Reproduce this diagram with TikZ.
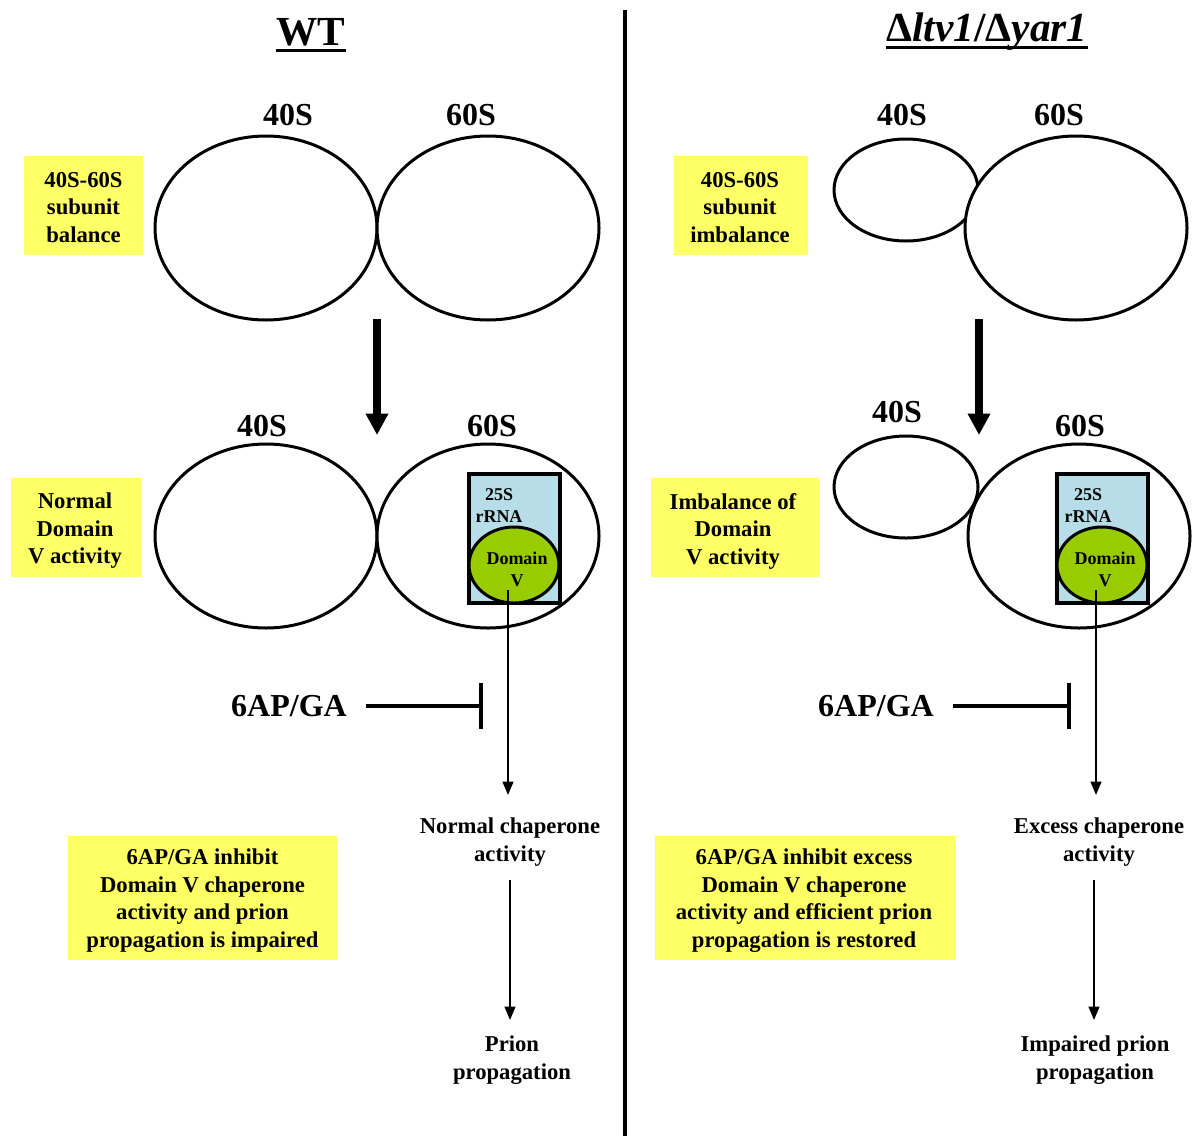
\documentclass[tikz,border=0pt]{standalone}
\usepackage{fontspec}
\setmainfont{Liberation Serif}
\usetikzlibrary{shapes.geometric,arrows.meta}
\definecolor{notey}{HTML}{FFFF66}
\definecolor{rnablue}{HTML}{B7DEE8}
\definecolor{domgreen}{HTML}{99CC00}
\newlength\unitpx
\setlength\unitpx{0.75pt}
\begin{document}
\begin{tikzpicture}[x=0.75pt,y=-0.75pt,
  headline/.style={font=\bfseries\fontsize{31}{36}\selectfont, inner sep=0pt},
  lbl/.style={font=\bfseries\fontsize{24}{28}\selectfont, inner sep=0pt},
  notebox/.style={fill=notey, inner sep=0pt},
  plaintext/.style={align=center, inner sep=0pt,
    font=\bfseries\fontsize{17}{20.6}\selectfont},
  sub/.style={draw, ellipse, fill=white, line width=2.25pt, inner sep=0pt},
  bigsub/.style={sub, minimum width=222\unitpx, minimum height=184\unitpx},
  smallsub/.style={sub, minimum width=144\unitpx, minimum height=102\unitpx},
  rnabox/.style={draw, fill=rnablue, line width=3pt, inner sep=0pt,
    minimum width=91\unitpx, minimum height=129\unitpx},
  domv/.style={draw, ellipse, fill=domgreen, line width=2.25pt, inner sep=0pt,
    minimum width=90\unitpx, minimum height=76\unitpx},
  tinytext/.style={align=center, inner sep=0pt,
    font=\bfseries\fontsize{13.5}{16.5}\selectfont},
  fatarrow/.style={line width=6pt, -{Triangle[width=16pt,length=16pt]}},
  thinarrow/.style={line width=1.5pt, -{Triangle[width=8pt,length=10pt]}},
  blockline/.style={line width=3pt, -{Bar[width=35pt]}},
  galabel/.style={lbl, inner xsep=14pt}
]
\useasboundingbox (0,0) rectangle (1194,1136);

% divider
\coordinate (divtop) at (625,10);
\coordinate (divbot) at (625,1136);
\draw[line width=3pt] (divtop) -- (divbot);

% titles, underlined
\node[headline] (wt) at (311,32) {WT};
\draw[line width=2.5pt] ([yshift=-4pt]wt.base west) -- ([yshift=-4pt]wt.base east);
\node[headline] (mut) at (987,32) {{\upshape Δ}\textit{ltv1}/{\upshape Δ}\textit{yar1}};
\draw[line width=2.5pt] ([yshift=-4pt]mut.base west) -- ([yshift=-4pt]mut.base east);

% ---------- wild type ----------
\node[bigsub] (w40a) at (266,228) {};
\node[bigsub] (w60a) at (488,228) {};
\node[lbl] at (288,115) {40S};
\node[lbl] at (471,115) {60S};
\node[notebox, minimum width=119\unitpx, minimum height=99\unitpx] (wbal) at (83.5,205.5) {};
\node[plaintext] (wbalt) at (83.5,207.5) {40S-60S\\subunit\\balance};

\coordinate (wfs) at (377,319);
\coordinate (wfe) at (377,435);
\draw[fatarrow] (wfs) -- (wfe);

\node[bigsub] (w40b) at (266,536) {};
\node[bigsub] (w60b) at (488,536) {};
\node[lbl] at (262,426) {40S};
\node[lbl] at (492,426) {60S};
\node[notebox, minimum width=130\unitpx, minimum height=99\unitpx] (wnorm) at (76,527.5) {};
\node[plaintext] (wnormt) at (75,531) {Normal\\Domain\\V activity};

\node[rnabox] (wrna) at (514.5,538.5) {};
\node[domv] (wdom) at (514,565) {};
\node[tinytext] at (499,506) {25S\\rRNA};
\node[tinytext] at (517,569) {Domain\\V};

\node[galabel] (wga) at (289,706) {6AP/GA};
\coordinate (wbar) at (483,706);
\draw[blockline] (wga.east) -- (wbar);

\coordinate (wds) at (508,590);
\coordinate (wde) at (508,795);
\draw[thinarrow] (wds) -- (wde);
\node[plaintext] (wcha) at (510,842) {Normal chaperone\\activity};
\coordinate (wcs) at (510,880);
\coordinate (wce) at (510,1020);
\draw[thinarrow] (wcs) -- (wce);
\node[plaintext] (wpri) at (512,1060) {Prion\\propagation};

\node[notebox, minimum width=269\unitpx, minimum height=124\unitpx] (winh) at (202.5,898) {};
\node[plaintext] (winht) at (202.5,900.5)
  {6AP/GA inhibit\\Domain V chaperone\\activity and prion\\propagation is impaired};

% ---------- mutant ----------
\node[smallsub] (m40a) at (906,190) {};
\node[bigsub] (m60a) at (1076,228) {};
\node[lbl] at (902,115) {40S};
\node[lbl] at (1059,115) {60S};
\node[notebox, minimum width=134\unitpx, minimum height=99\unitpx] (mbal) at (741,205.5) {};
\node[plaintext] (mbalt) at (740,207.5) {40S-60S\\subunit\\imbalance};

\coordinate (mfs) at (979,319);
\coordinate (mfe) at (979,435);
\draw[fatarrow] (mfs) -- (mfe);

\node[bigsub] (m60b) at (1079,536) {};
\node[smallsub] (m40b) at (906,487) {};
\node[lbl] at (897,412) {40S};
\node[lbl] at (1080,426) {60S};
\node[notebox, minimum width=168\unitpx, minimum height=99\unitpx] (mimb) at (735,527.5) {};
\node[plaintext] (mimbt) at (733,531) {Imbalance of\\Domain\\V activity};

\node[rnabox] (mrna) at (1102.5,538.5) {};
\node[domv] (mdom) at (1102,565) {};
\node[tinytext] at (1088,506) {25S\\rRNA};
\node[tinytext] at (1105,569) {Domain\\V};

\node[galabel] (mga) at (876,706) {6AP/GA};
\coordinate (mbar) at (1071,706);
\draw[blockline] (mga.east) -- (mbar);

\coordinate (mds) at (1096,590);
\coordinate (mde) at (1096,795);
\draw[thinarrow] (mds) -- (mde);
\node[plaintext] (mcha) at (1099,842) {Excess chaperone\\activity};
\coordinate (mcs) at (1094,880);
\coordinate (mce) at (1094,1020);
\draw[thinarrow] (mcs) -- (mce);
\node[plaintext] (mpri) at (1095,1060) {Impaired prion\\propagation};

\node[notebox, minimum width=300\unitpx, minimum height=124\unitpx] (minh) at (805,898) {};
\node[plaintext] (minht) at (804,900.5)
  {6AP/GA inhibit excess\\Domain V chaperone\\activity and efficient prion\\propagation is restored};
\end{tikzpicture}
\end{document}
